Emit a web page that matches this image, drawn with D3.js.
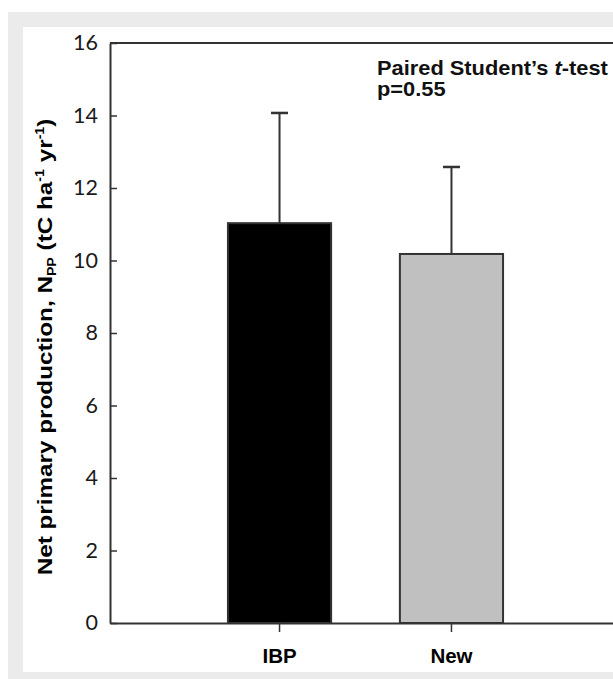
<!DOCTYPE html>
<html>
<head>
<meta charset="utf-8">
<script src="https://cdn.jsdelivr.net/npm/d3@7"></script>
<style>
  html, body { margin: 0; padding: 0; background: #fff; }
  svg { display: block; }
</style>
</head>
<body>
<svg id="chart" width="613" height="679"></svg>
<script>
// ---- data ----
const categories = ["IBP", "New"];
const means = [11.03, 10.18];
const errors = [3.04, 2.40];
const barColors = ["#000000", "#c0c0c0"];
const yTicks = [0, 2, 4, 6, 8, 10, 12, 14, 16];
const annotationLine2 = "p=0.55";

const svg = d3.select("#chart");

// background panels
svg.append("rect").attr("x", 8).attr("y", 12).attr("width", 605).attr("height", 667).attr("fill", "#ebebeb");
svg.append("rect").attr("x", 23).attr("y", 27).attr("width", 590).attr("height", 645).attr("fill", "#ffffff");

const x0 = 110, yTop = 43, yBottom = 623;
const x = d3.scaleBand().domain(categories).range([x0, 621]).paddingInner(0.4).paddingOuter(0.686);
const y = d3.scaleLinear().domain([0, 16]).range([yBottom, yTop]);

const axisColor = "#333";

// top frame line
svg.append("line").attr("x1", x0).attr("x2", 640).attr("y1", y(16)).attr("y2", y(16))
  .attr("stroke", axisColor).attr("stroke-width", 2);

// bars
const data = categories.map((c, i) => ({ c, v: means[i], e: errors[i], col: barColors[i] }));
const g = svg.append("g");
g.selectAll("rect.bar").data(data).join("rect")
  .attr("class", "bar")
  .attr("x", d => x(d.c)).attr("width", x.bandwidth())
  .attr("y", d => y(d.v)).attr("height", d => y(0) - y(d.v))
  .attr("fill", d => d.col).attr("stroke", axisColor).attr("stroke-width", 2);

// error bars
const capW = 17;
g.selectAll("line.err").data(data).join("line")
  .attr("class", "err")
  .attr("x1", d => x(d.c) + x.bandwidth() / 2).attr("x2", d => x(d.c) + x.bandwidth() / 2)
  .attr("y1", d => y(d.v)).attr("y2", d => y(d.v + d.e))
  .attr("stroke", axisColor).attr("stroke-width", 2);
g.selectAll("line.cap").data(data).join("line")
  .attr("class", "cap")
  .attr("x1", d => x(d.c) + x.bandwidth() / 2 - capW / 2).attr("x2", d => x(d.c) + x.bandwidth() / 2 + capW / 2)
  .attr("y1", d => y(d.v + d.e)).attr("y2", d => y(d.v + d.e))
  .attr("stroke", axisColor).attr("stroke-width", 2.5);

// y axis
const yAxis = d3.axisLeft(y).tickValues(yTicks).tickSizeInner(-7).tickSizeOuter(0).tickPadding(12);
const gy = svg.append("g").attr("transform", `translate(${x0},0)`).call(yAxis);
gy.select(".domain").attr("stroke", axisColor).attr("stroke-width", 2);
gy.selectAll(".tick line").attr("stroke", axisColor).attr("stroke-width", 1.5);
gy.selectAll(".tick text").attr("fill", "#1a1a1a").attr("font-family", "Lato, 'Open Sans', sans-serif")
  .attr("font-size", 21.5);

// x axis
const xAxis = d3.axisBottom(x).tickSizeInner(9).tickSizeOuter(0).tickPadding(16);
const gx = svg.append("g").attr("transform", `translate(0,${yBottom})`).call(xAxis);
gx.select(".domain").attr("stroke", axisColor).attr("stroke-width", 2);
gx.selectAll(".tick line").attr("stroke", axisColor).attr("stroke-width", 1.5);
gx.selectAll(".tick text").attr("fill", "#000").attr("font-family", "'Liberation Sans', Arial, sans-serif")
  .attr("font-weight", "bold").attr("font-size", 20.5);

// annotation
const ann = svg.append("text").attr("x", 377).attr("y", 75)
  .attr("font-family", "'Liberation Sans', Arial, sans-serif").attr("font-weight", "bold").attr("font-size", 19.5).attr("fill", "#111");
ann.append("tspan").text("Paired Student\u2019s ");
ann.append("tspan").attr("font-style", "italic").text("t");
ann.append("tspan").text("-test");
const annW = ann.node().getComputedTextLength();
const annS = 231 / annW;
ann.attr("transform", `translate(377,0) scale(${annS},1) translate(-377,0)`);
const ann2 = svg.append("text").attr("x", 377).attr("y", 96)
  .attr("font-family", "'Liberation Sans', Arial, sans-serif").attr("font-weight", "bold").attr("font-size", 19.5).attr("fill", "#111")
  .text(annotationLine2);
ann2.attr("transform", `translate(377,0) scale(${annS},1) translate(-377,0)`);

// y title
const yt = svg.append("text")
  .attr("text-anchor", "middle")
  .attr("font-family", "'Liberation Sans', Arial, sans-serif").attr("font-weight", "bold").attr("font-size", 20.5).attr("fill", "#000");
yt.append("tspan").text("Net primary production, N");
yt.append("tspan").attr("font-size", 12).attr("dy", 4).text("PP");
yt.append("tspan").attr("dy", -4).text(" (tC ha");
yt.append("tspan").attr("font-size", 12).attr("dy", -8).text("-1");
yt.append("tspan").attr("dy", 8).text(" yr");
yt.append("tspan").attr("font-size", 12).attr("dy", -8).text("-1");
yt.append("tspan").attr("dy", 8).text(")");
const ytW = yt.node().getComputedTextLength();
yt.attr("transform", `translate(52,347) rotate(-90) scale(${457 / ytW},1)`);
</script>
</body>
</html>
